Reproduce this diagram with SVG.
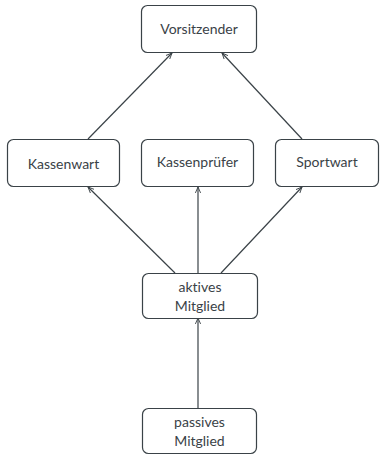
<svg xmlns="http://www.w3.org/2000/svg" width="385" height="455" viewBox="0 0 385 455">
<defs>
<marker id="ah" viewBox="0 0 10 10" refX="9" refY="5" markerWidth="7" markerHeight="7" markerUnits="userSpaceOnUse" orient="auto">
<path d="M1,1.5 L9,5 L1,8.5" fill="none" stroke="#3a4247" stroke-width="1.3" stroke-linecap="round"/>
</marker>
<style>
.box{fill:#fff;stroke:#3a4247;stroke-width:1.2}
.t{font-family:Lato,"Liberation Sans",sans-serif;font-size:14px;fill:#3a4247;text-anchor:middle;font-variant-ligatures:none}
.e{stroke:#3a4247;stroke-width:1.2;fill:none;marker-end:url(#ah)}
</style>
</defs>
<rect width="385" height="455" fill="#fff"/>
<g id="connectors">
<line class="e" x1="88" y1="139" x2="172" y2="53"/>
<line class="e" x1="302" y1="139" x2="222" y2="53"/>
<line class="e" x1="175" y1="273" x2="88" y2="187"/>
<line class="e" x1="198" y1="273" x2="198" y2="187"/>
<line class="e" x1="221" y1="273" x2="302" y2="187"/>
<line class="e" x1="198" y1="408" x2="198" y2="318"/>
</g>
<g id="vorsitzender"><rect class="box" x="141.5" y="5.5" width="115" height="47" rx="6"/><text class="t" x="199" y="34">Vorsitzender</text></g>
<g id="kassenwart"><rect class="box" x="7.5" y="139.5" width="112" height="47" rx="6"/><text class="t" x="63.5" y="169">Kassenwart</text></g>
<g id="kassenpruefer"><rect class="box" x="141.5" y="139.5" width="112" height="47" rx="6"/><text class="t" x="197.5" y="167">Kassenprüfer</text></g>
<g id="sportwart"><rect class="box" x="275.5" y="139.5" width="103" height="47" rx="6"/><text class="t" x="327" y="167">Sportwart</text></g>
<g id="aktives"><rect class="box" x="142.5" y="273.5" width="115" height="45" rx="6"/><text class="t" x="200" y="292">aktives</text><text class="t" x="200" y="311">Mitglied</text></g>
<g id="passives"><rect class="box" x="142.5" y="408.5" width="114" height="45" rx="6"/><text class="t" x="199.5" y="427">passives</text><text class="t" x="199.5" y="446">Mitglied</text></g>
</svg>
